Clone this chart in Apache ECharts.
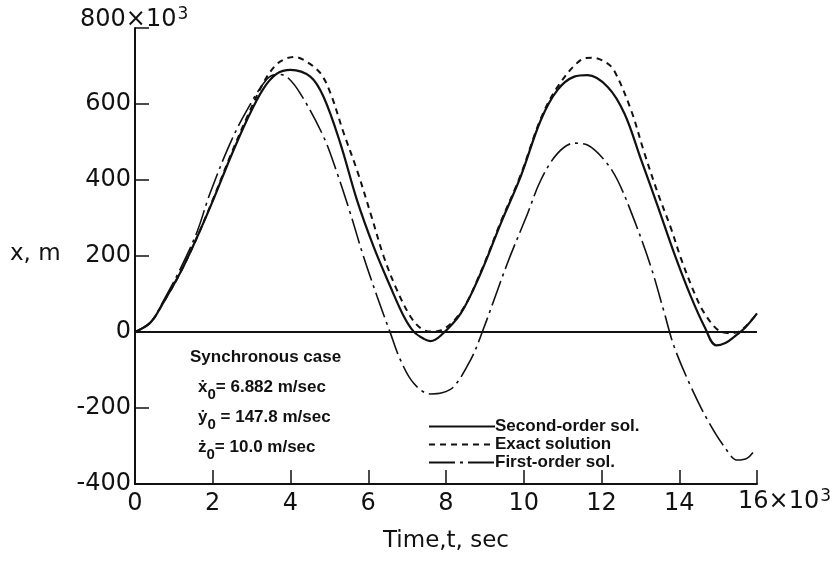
<!DOCTYPE html>
<html>
<head>
<meta charset="utf-8">
<script src="https://cdn.jsdelivr.net/npm/echarts@6/dist/echarts.min.js"></script>
<style>html,body{margin:0;padding:0;background:#fff}#c{width:839px;height:563px}</style>
</head>
<body>
<div id="c"></div>
<script>
// Time in 10^3 sec, x in 10^3 m
const secondOrder = [[0,0],[0.4,25],[0.72,76],[1.16,155],[1.59,248],[2.01,347],[2.45,458],[2.88,558],[3.3,640],[3.65,680],[4.0,690],[4.51,672],[4.85,619],[5.28,497],[5.71,347],[6.14,224],[6.57,119],[6.92,40],[7.17,1],[7.43,-18],[7.6,-24],[7.86,-10],[8.38,49],[8.89,154],[9.41,286],[9.92,409],[10.44,558],[10.87,637],[11.3,672],[11.64,676],[12.16,645],[12.59,575],[13.02,453],[13.45,330],[13.87,207],[14.3,93],[14.65,14],[14.95,-35],[15.2,-28],[15.42,-12],[15.7,12],[16.0,49]];
const exactSol = [[0,0],[0.4,25],[0.72,76],[1.16,155],[1.59,248],[2.01,350],[2.45,463],[2.88,565],[3.3,655],[3.6,700],[3.85,718],[4.1,724],[4.4,712],[4.77,681],[5.03,628],[5.37,523],[5.71,426],[6.06,312],[6.4,198],[6.74,110],[7.09,40],[7.35,10],[7.6,1],[7.86,4],[8.38,52],[8.89,157],[9.41,290],[9.92,413],[10.44,562],[10.87,645],[11.47,716],[11.77,722],[12.1,710],[12.32,689],[12.76,584],[13.1,472],[13.45,365],[13.79,272],[14.05,192],[14.4,100],[14.65,49],[15.0,5],[15.3,-3],[15.6,5],[16.0,49]];
const firstOrder = [[0,0],[0.4,26],[0.72,80],[1.16,165],[1.59,262],[1.93,365],[2.45,497],[2.88,584],[3.39,665],[3.65,678],[3.9,672],[4.25,628],[4.85,514],[5.2,418],[5.54,312],[5.88,198],[6.23,93],[6.57,-3],[6.83,-74],[7.17,-135],[7.6,-163],[7.9,-160],[8.2,-144],[8.63,-74],[8.89,-12],[9.58,181],[10.1,312],[10.44,400],[10.87,470],[11.3,497],[11.64,492],[12.07,453],[12.41,400],[12.84,295],[13.27,172],[13.62,49],[13.87,-39],[14.3,-144],[14.73,-232],[15.16,-302],[15.5,-337],[15.75,-332],[15.94,-311]];
const seriesNames = ['Second-order sol.', 'Exact solution', 'First-order sol.'];
const xTicks = [0,2,4,6,8,10,12,14,16];
const yTicks = [-400,-200,0,200,400,600,800];

const FONT = 'DejaVu Sans';
const INK = '#111';
const chart = echarts.init(document.getElementById('c'), null, {renderer:'canvas'});
const lineCommon = {type:'line', smooth:0.35, symbol:'none', showSymbol:false, silent:true, z:3,
  itemStyle:{color:INK}};
const supRich = {sup:{fontFamily:FONT, fontSize:17, verticalAlign:'top', padding:[0,0,10,1], fill:INK}};
chart.setOption({
  animation:false,
  backgroundColor:'#fff',
  grid:{left:135, right:82, top:28, bottom:79, containLabel:false},
  xAxis:{type:'value', min:xTicks[0], max:xTicks[xTicks.length-1], interval:2,
    name:'Time,t, sec', nameLocation:'middle', nameGap:46,
    nameTextStyle:{fontFamily:FONT, fontSize:23, color:INK},
    axisLine:{onZero:false, lineStyle:{color:INK, width:2}},
    axisTick:{inside:true, length:14, lineStyle:{color:INK, width:1.5}},
    axisLabel:{fontFamily:FONT, fontSize:24, color:INK, margin:8,
      formatter:v=> v===16 ? '' : String(v)},
    splitLine:{show:false}},
  yAxis:{type:'value', min:yTicks[0], max:yTicks[yTicks.length-1], interval:200,
    axisLine:{show:true, onZero:false, lineStyle:{color:INK, width:2}},
    axisTick:{show:true, inside:true, length:14, lineStyle:{color:INK, width:1.5}},
    axisLabel:{fontFamily:FONT, fontSize:24, color:INK, margin:4,
      formatter:v=> v===800 ? '' : String(v)},
    splitLine:{show:false}},
  legend:{show:true, orient:'vertical', left:423, top:413, itemWidth:66, itemHeight:12, itemGap:1,
    data:seriesNames, itemStyle:{opacity:0},
    textStyle:{fontFamily:'Liberation Sans', fontWeight:'bold', fontSize:17, color:INK, padding:[0,0,0,-5]},
    selectedMode:false},
  graphic:[
    {type:'text', left:80, top:6, style:{text:'800×10{sup|3}', fontFamily:FONT, fontSize:24, fill:INK, rich:supRich}},
    {type:'text', left:10, top:243, style:{text:'x, m', fontFamily:FONT, fontSize:23, fill:INK}},
    {type:'text', left:738, top:488, style:{text:'16×10{sup|3}', fontFamily:FONT, fontSize:24, fill:INK, rich:supRich}},
    {type:'text', left:190, top:342, style:{
      text:'Synchronous case\n{d|ẋ}{s|0}= 6.882 m/sec\n{d|ẏ}{s|0} = 147.8 m/sec\n{d|ż}{s|0}= 10.0 m/sec',
      fontFamily:'Liberation Sans', fontWeight:'bold', fontSize:17, fill:INK, lineHeight:30,
      rich:{d:{fontFamily:'Liberation Sans', fontWeight:'bold', fontSize:17, padding:[0,0,0,8]},
            s:{fontFamily:'Liberation Sans', fontWeight:'bold', fontSize:15, verticalAlign:'bottom', padding:[8,0,0,0]}}}}
  ],
  series:[
    Object.assign({}, lineCommon, {name:seriesNames[0], data:secondOrder,
      lineStyle:{color:INK, width:2.2, type:'solid'},
      markLine:{silent:true, symbol:'none', label:{show:false},
        lineStyle:{color:INK, width:2, type:'solid'}, data:[{yAxis:0}]}}),
    Object.assign({}, lineCommon, {name:seriesNames[1], data:exactSol,
      lineStyle:{color:INK, width:2, type:[6,5]}}),
    Object.assign({}, lineCommon, {name:seriesNames[2], data:firstOrder,
      lineStyle:{color:INK, width:1.6, type:[26,5,3,5]}})
  ]
});
</script>
</body>
</html>
